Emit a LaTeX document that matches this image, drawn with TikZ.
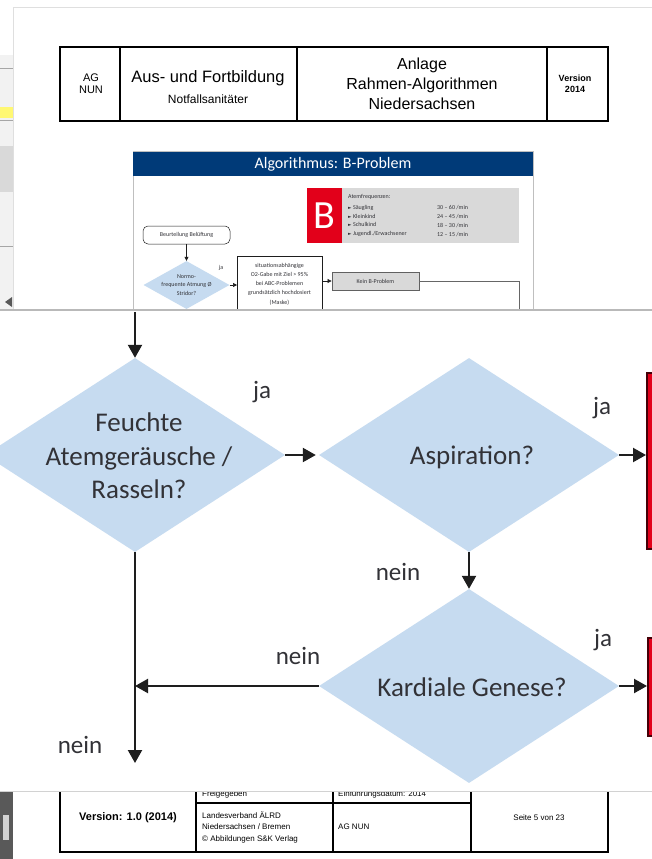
\documentclass[tikz,border=0pt]{standalone}
\usepackage{fontspec}
\setmainfont{Liberation Sans}
\newfontfamily\diafont{Carlito}
\newfontfamily\symfont{DejaVu Sans}
\usetikzlibrary{shapes.geometric,arrows.meta}
\definecolor{diablue}{RGB}{198,219,240}
\definecolor{hdblue}{RGB}{0,58,120}
\definecolor{nfred}{RGB}{226,0,26}
\definecolor{txtgray}{RGB}{50,50,55}
\definecolor{arrblack}{RGB}{30,30,30}
\definecolor{boxgray}{RGB}{217,217,217}
\newcommand{\tri}{{\symfont\fontsize{4.5}{4.5}\selectfont ►}~}
\begin{document}
\begin{tikzpicture}[x=1pt,y=-1pt,
  dia/.style={diamond,fill=diablue,inner sep=0pt,minimum width=300pt,minimum height=194pt},
  diatext/.style={inner sep=0pt,align=center,text=txtgray,font=\diafont\fontsize{27}{33.5}\selectfont},
  lbl/.style={text=txtgray,inner sep=0pt,font=\diafont\fontsize{25}{25}\selectfont},
  big/.style={draw=arrblack,line width=2.2pt,-{Triangle[length=13pt,width=14pt]}},
  redbox/.style={draw=black!70!nfred,fill=nfred,line width=1.5pt,minimum width=40pt,anchor=north west},
  small/.style={draw=arrblack,line width=0.6pt,-{Triangle[length=4pt,width=4pt]}},
  tiny/.style={inner sep=0pt,text=txtgray,align=center,font=\diafont\fontsize{6}{8.5}\selectfont},
  tab/.style={inner sep=0pt,align=center}]
\clip (0,0) rectangle (652,859);
\fill[white] (0,0) rectangle (652,859);
\fill[gray!10] (0,55) rectangle (13,310);
\fill[yellow!55] (0,107) rectangle (13,118);
\fill[gray!30] (0,146) rectangle (13,192);
\draw[gray!70,line width=0.6pt] (0,68) -- (13,68);
\draw[gray!70,line width=0.6pt] (0,120) -- (13,120);
\draw[gray!70,line width=0.6pt] (0,246) -- (13,246);
\fill[gray!70!black] (5,302) -- (12,297) -- (12,307) -- cycle;
\draw[gray!25,line width=1pt] (13,310) -- (13,8) -- (652,8);

\draw[line width=1.6pt] (60,47) rectangle (608,121);
\foreach \cx in {120,297,547}
  \draw[line width=1.3pt] (\cx,47) -- (\cx,121);
\node[tab,font=\fontsize{11}{12}\selectfont] (ag) at (91,84) {AG\\NUN};
\node[tab,font=\fontsize{16.5}{18}\selectfont] (ausfort) at (208,78) {Aus- und Fortbildung};
\node[tab,font=\fontsize{12}{13}\selectfont] (nfs) at (208,99) {Notfallsanitäter};
\node[tab,font=\fontsize{16}{20}\selectfont] (anlage) at (422,84) {Anlage\\Rahmen-Algorithmen\\Niedersachsen};
\node[tab,font=\bfseries\fontsize{9}{11}\selectfont] (version) at (575,84) {Version\\2014};

\draw[gray!50,line width=1pt] (133,151) rectangle (533,330);
\fill[hdblue] (133,152) rectangle (533,176);
\node[inner sep=0pt,text=white,font=\diafont\fontsize{16}{16}\selectfont] (algo) at (333,164) {Algorithmus: B-Problem};
\node[fill=nfred,minimum width=35pt,minimum height=55pt,inner sep=0pt,text=white,
  font=\diafont\fontsize{40}{40}\selectfont] (bbox) at (324.5,215.5) {B};
\node[fill=boxgray,minimum width=177pt,minimum height=55pt,anchor=west,inner sep=0pt] (freq) at (bbox.east) {};
\node[tiny,anchor=west] (freqhead) at (348,197) {Atemfrequenzen:};
\node[tiny,anchor=west,align=left,font=\diafont\fontsize{6}{8.8}\selectfont] (freqnames) at (348,221)
  {\tri Säugling\\\tri Kleinkind\\\tri Schulkind\\\tri Jugendl./Erwachsener};
\node[tiny,anchor=west,align=left,font=\diafont\fontsize{6}{8.8}\selectfont] (freqvals) at (437,221)
  {30 – 60 /min\\24 – 45 /min\\18 – 30 /min\\12 – 15 /min};
\node[tiny,draw=arrblack,line width=0.5pt,rounded corners=5pt,minimum width=87pt,minimum height=18pt] (beurt) at (186.5,235) {Beurteilung Belüftung};
\node[diamond,fill=diablue,inner sep=0pt,minimum width=86pt,minimum height=48pt] (normo) at (186.5,285) {};
\node[tiny] (normotxt) at (186.5,285) {Normo-\\frequente Atmung Ø\\Stridor?};
\node[tiny,font=\diafont\fontsize{6}{6}\selectfont] (ja0) at (221,268) {ja};
\node[tiny,draw=arrblack,line width=0.5pt,minimum width=85pt,minimum height=60pt,anchor=north west] (otwo) at (237,256) {};
\node[tiny,font=\diafont\fontsize{6}{9.2}\selectfont] (otwotxt) at (279.5,284)
  {situationsabhängige\\O2-Gabe mit Ziel > 95\%\\bei ABC-Problemen\\grundsätzlich hochdosiert\\(Maske)};
\node[tiny,draw=arrblack!70,fill=boxgray,line width=0.8pt,minimum width=87pt,minimum height=18pt] (kein) at (375.5,281) {Kein B-Problem};
\draw[small] (beurt) -- (normo);
\draw[small] (normo.east) -- (otwo.west |- normo.east);
\draw[small] (otwo.east |- kein.west) -- (kein.west);
\draw[gray!80!black,line width=0.6pt] (kein.east) -- (519,281) -- (519,315);

\draw[line width=1.3pt] (60,785) -- (60,852) -- (608,852) -- (608,785);
\foreach \cx in {196,333,471}
  \draw[line width=1.3pt] (\cx,785) -- (\cx,852);
\draw[line width=1.3pt] (196,803) -- (471,803);
\node[tab,font=\bfseries\fontsize{11}{12}\selectfont] (vers) at (128,818) {Version: 1.0 (2014)};
\node[tab,anchor=west,font=\fontsize{8}{9}\selectfont] (freig) at (202,794.5) {Freigegeben};
\node[tab,anchor=west,font=\fontsize{8}{9}\selectfont] (einf) at (338,794.5) {Einführungsdatum: 2014};
\node[tab,anchor=west,align=left,font=\fontsize{8}{11.5}\selectfont] (lv) at (202,827)
  {Landesverband ÄLRD\\Niedersachsen / Bremen\\© Abbildungen S\&K Verlag};
\node[tab,anchor=west,font=\fontsize{8}{9}\selectfont] (agnun) at (338,827) {AG NUN};
\node[tab,font=\fontsize{8}{9}\selectfont] (seite) at (539,818) {Seite 5 von 23};
\fill[gray!70!black] (0,792) rectangle (13,859);
\fill[gray!35] (3,815) rectangle (9,840);

\fill[white] (0,310) rectangle (652,791);
\draw[gray!55,line width=1.3pt] (0,310) -- (652,310);
\draw[gray!35,line width=0.8pt] (0,791) -- (652,791);

\coordinate (start) at (135,312);
\coordinate (join) at (135,686);
\coordinate (ende) at (135,763);
\node[dia] (feucht) at (135,455) {};
\node[dia] (aspir) at (469,455) {};
\node[dia] (kardial) at (469,686) {};
\node[diatext] (feuchttxt) at (139,456) {Feuchte\\Atemgeräusche /\\Rasseln?};
\node[diatext] (aspirtxt) at (472,457) {Aspiration?};
\node[diatext] (kardialtxt) at (472,687) {Kardiale Genese?};
\node[redbox,minimum height=176pt] (rot1) at (646,372) {};
\node[redbox,minimum height=98pt] (rot2) at (647,637) {};
\node[lbl] (ja1) at (262,392) {ja};
\node[lbl] (ja2) at (602,408) {ja};
\node[lbl] (nein1) at (398,572) {nein};
\node[lbl] (ja3) at (603,640) {ja};
\node[lbl] (nein2) at (298,656) {nein};
\node[lbl] (nein3) at (80,745) {nein};
\draw[big] (start) -- (feucht.north);
\draw[big] (feucht.east) -- ([xshift=-3pt]aspir.west);
\draw[big] (aspir.east) -- (aspir.east -| rot1.west);
\draw[big] (aspir.south) -- (kardial.north);
\draw[big] (kardial.east) -- (kardial.east -| rot2.west);
\draw[big] (kardial.west) -- (join);
\draw[draw=arrblack,line width=2.2pt] (feucht.south) -- (join);
\draw[big] (join) -- (ende);
\end{tikzpicture}
\end{document}
